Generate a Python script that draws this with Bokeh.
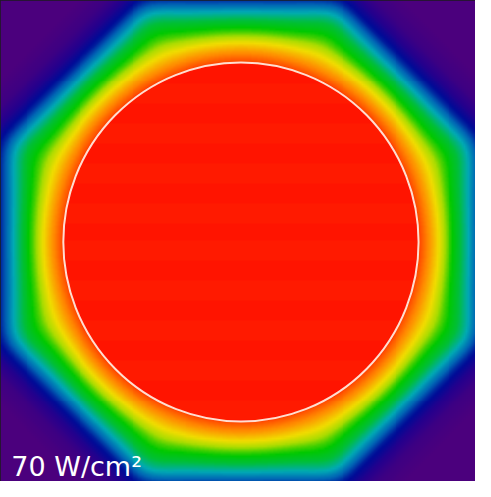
import numpy as np
from bokeh.plotting import figure
from bokeh.models import LinearColorMapper, Range1d
from bokeh.core.properties import value
from bokeh.embed import file_html
from bokeh.resources import INLINE

frame_x = (7, 491)
frame_y = (6, 491)
# profile of the normalised field outside the heated disc
# (distance in px from the disc centre)
profile_dist = [0, 181, 183, 192, 202, 212, 222, 232, 237, 241, 245, 256, 270, 290, 400]
profile_val = [0.92, 0.92, 0.90, 0.83, 0.73, 0.60, 0.50, 0.38, 0.31, 0.26, 0.21, 0.12, 0.04, 0.0, 0.0]
octagon_k = 0.707            # weight of the diagonal facets of the outer contours
blend_width = 70             # px over which contours turn from round to octagonal
corner_round = 11            # px, rounding of the octagon corners
disc_radius = 181            # px, white circle
disc_center = (252, 249.5)
core_band_values = [1.0, 0.985]   # faint horizontal stripes inside the disc
core_band_height = 20
label_text = "70 W/cm²"
label_pos = (18, 476)        # left end, vertical middle of the capitals

# colour map anchors (position, rgb)
cmap_pos = [0.00, 0.10, 0.18, 0.28, 0.38, 0.48, 0.56, 0.66, 0.74, 0.84, 0.92, 1.00]
cmap_rgb = [(75, 0, 125), (40, 0, 140), (0, 10, 150), (0, 100, 180), (0, 170, 180),
            (0, 190, 60), (0, 200, 0), (170, 220, 0), (240, 220, 0), (255, 140, 0),
            (255, 60, 0), (255, 20, 0)]

W, H = 475, 481
p = figure(width=W, height=H, output_backend="svg", toolbar_location=None,
           x_axis_location=None, y_axis_location=None, min_border=0,
           x_range=Range1d(frame_x[0], frame_x[1]),
           y_range=Range1d(-frame_y[1], -frame_y[0]))
p.grid.visible = False
p.outline_line_color = "#1c1c1c"
p.outline_line_width = 2

# palette
t = np.linspace(0, 1, 256)
arr = np.array(cmap_rgb, dtype=float)
palette = ["#%02x%02x%02x" % tuple(int(round(np.interp(tt, cmap_pos, arr[:, i]))) for i in range(3))
           for tt in t]
mapper = LinearColorMapper(palette=palette, low=0, high=1)

# field on a fine grid (row 0 = bottom); computed on a padded grid to avoid edge effects
fw = frame_x[1] - frame_x[0]
fh = frame_y[1] - frame_y[0]
n = 242
cell = fw / n
s = corner_round / cell
r = int(3 * s) + 1
idx = np.arange(-r, n + r)
xs = frame_x[0] + (idx + 0.5) * fw / n
ys_down = frame_y[1] - (idx + 0.5) * fh / n
X, Yd = np.meshgrid(xs - disc_center[0], ys_down - disc_center[1])
Y = -Yd
D_oct = np.maximum(np.maximum(np.abs(X), np.abs(Y)), octagon_k * (np.abs(X) + np.abs(Y)))
kern = np.exp(-0.5 * (np.arange(-r, r + 1) / s) ** 2)
kern /= kern.sum()
D_oct = np.apply_along_axis(lambda v: np.convolve(v, kern, mode="valid"), 0, D_oct)
D_oct = np.apply_along_axis(lambda v: np.convolve(v, kern, mode="valid"), 1, D_oct)
X = X[r:-r, r:-r]
Y = Y[r:-r, r:-r]

E = np.hypot(X, Y)
u_c = np.clip(E - disc_radius, 0, None)
w = np.clip(u_c / blend_width, 0, 1)
w = w * w * (3 - 2 * w)
D = disc_radius + (1 - w) * u_c + w * (D_oct - disc_radius)
field = np.interp(D, profile_dist, profile_val)
inside = E <= disc_radius
band = (np.floor(Y / core_band_height).astype(int)) % len(core_band_values)
core = np.array(core_band_values)[band]
field[inside] = core[inside]

p.image(image=[field], x=frame_x[0], y=-frame_y[1], dw=fw, dh=fh, color_mapper=mapper)

p.ellipse(x=[disc_center[0]], y=[-disc_center[1]], width=2 * disc_radius, height=2 * disc_radius,
          fill_alpha=0, line_color="#fff2e8", line_width=2, line_alpha=0.9)

p.text(x=[label_pos[0]], y=[-label_pos[1]], text=[label_text], text_baseline="middle",
       text_font=value("DejaVu Sans"), text_font_size="27px", text_color="white")

open("out.html", "w").write(file_html(p, INLINE))
